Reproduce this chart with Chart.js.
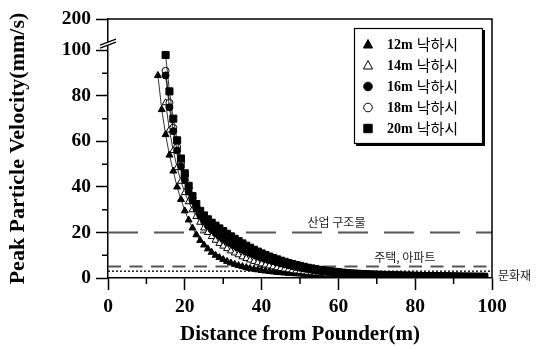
<!DOCTYPE html>
<html>
<head>
<meta charset="utf-8">
<script src="https://cdn.jsdelivr.net/npm/chart.js@4.4.1/dist/chart.umd.min.js"></script>
<style>
  html, body { margin: 0; padding: 0; background: #fff; }
  canvas { display: block; }
</style>
</head>
<body>
<canvas id="chart" width="538" height="349"></canvas>
<script>
// distance from pounder (m), one reading per metre
const distances = [13, 14, 15, 16, 17, 18, 19, 20, 21, 22,
  23, 24, 25, 26, 27, 28, 29, 30, 31, 32,
  33, 34, 35, 36, 37, 38, 39, 40, 41, 42,
  43, 44, 45, 46, 47, 48, 49, 50, 51, 52,
  53, 54, 55, 56, 57, 58, 59, 60, 61, 62,
  63, 64, 65, 66, 67, 68, 69, 70, 71, 72,
  73, 74, 75, 76, 77, 78, 79, 80, 81, 82,
  83, 84, 85, 86, 87, 88, 89, 90, 91, 92,
  93, 94, 95, 96, 97, 98];

// peak particle velocity (mm/s) per drop height
const ppv12 = [89, 74, 63, 54, 47, 40, 34.5, 29.5, 25.5, 22,
  19, 16.5, 14.5, 12.8, 11.3, 10, 9, 8.1, 7.3, 6.6,
  6, 5.5, 5, 4.6, 4.2, 3.9, 3.6, 3.3, 3.1, 2.9,
  2.7, 2.5, 2.35, 2.2, 2.05, 1.95, 1.85, 1.75, 1.65, 1.55,
  1.5, 1.4, 1.35, 1.3, 1.22, 1.17, 1.12, 1.07, 1.03, 0.99,
  0.95, 0.91, 0.88, 0.85, 0.82, 0.79, 0.76, 0.74, 0.71, 0.69,
  0.67, 0.65, 0.63, 0.61, 0.59, 0.58, 0.56, 0.55, 0.53, 0.52,
  0.5, 0.49, 0.48, 0.47, 0.45, 0.44, 0.43, 0.42, 0.41, 0.4,
  0.39, 0.39, 0.38, 0.37, 0.36, 0.35];

const ppv14 = [null, null, 77, 65, 56, 48.5, 42.5, 37.5, 33.5, 30,
  27, 24.5, 22, 20, 18.2, 16.6, 15.2, 14, 12.9, 11.9,
  11, 10.2, 9.3, 8.6, 7.9, 7.3, 6.7, 6.2, 5.7, 5.3,
  4.9, 4.5, 4.2, 3.9, 3.6, 3.35, 3.1, 2.9, 2.7, 2.5,
  2.35, 2.2, 2.05, 1.92, 1.8, 1.7, 1.6, 1.5, 1.42, 1.34,
  1.27, 1.2, 1.14, 1.08, 1.03, 0.98, 0.94, 0.9, 0.86, 0.82,
  0.79, 0.76, 0.73, 0.7, 0.68, 0.66, 0.64, 0.62, 0.6, 0.58,
  0.56, 0.55, 0.53, 0.52, 0.51, 0.5, 0.49, 0.48, 0.47, 0.46,
  0.45, 0.44, 0.43, 0.42, 0.41, 0.4];

const ppv16 = [null, null, 89, 75, 64.5, 56, 49, 43, 38, 34,
  30.5, 27.5, 25, 23, 21.3, 19.8, 18.5, 17.3, 16.2, 15.2,
  14.2, 13.3, 12.5, 11.7, 11, 10.3, 9.6, 9, 8.4, 7.9,
  7.4, 6.9, 6.4, 6, 5.6, 5.2, 4.8, 4.5, 4.2, 3.9,
  3.6, 3.35, 3.1, 2.9, 2.7, 2.5, 2.35, 2.2, 2.05, 1.95,
  1.85, 1.75, 1.65, 1.56, 1.48, 1.41, 1.34, 1.28, 1.22, 1.17,
  1.12, 1.07, 1.03, 0.99, 0.95, 0.91, 0.88, 0.85, 0.82, 0.79,
  0.76, 0.74, 0.71, 0.69, 0.67, 0.65, 0.63, 0.61, 0.59, 0.57,
  0.56, 0.54, 0.53, 0.51, 0.5, 0.49];

const ppv18 = [null, null, 91, 77, 66, 57.5, 50.5, 44.5, 39.5, 35.2,
  31.6, 28.6, 26, 24, 22.2, 20.6, 19.2, 18, 16.9, 15.9,
  14.9, 14, 13.1, 12.3, 11.5, 10.8, 10.1, 9.5, 8.9, 8.3,
  7.8, 7.3, 6.8, 6.3, 5.9, 5.5, 5.1, 4.8, 4.5, 4.2,
  3.9, 3.6, 3.35, 3.1, 2.9, 2.7, 2.5, 2.35, 2.2, 2.05,
  1.95, 1.85, 1.75, 1.65, 1.56, 1.48, 1.41, 1.34, 1.28, 1.22,
  1.17, 1.12, 1.08, 1.04, 1, 0.96, 0.92, 0.89, 0.86, 0.83,
  0.8, 0.77, 0.75, 0.72, 0.7, 0.68, 0.66, 0.64, 0.62, 0.6,
  0.58, 0.57, 0.55, 0.54, 0.52, 0.51];

const ppv20 = [null, null, 98, 82, 70, 60.5, 52.5, 46, 40.5, 36,
  32.5, 29.5, 27.5, 25.8, 24.3, 23, 21.8, 20.6, 19.4, 18.3,
  17.2, 16.2, 15.2, 14.2, 13.3, 12.4, 11.6, 10.8, 10.1, 9.4,
  8.8, 8.2, 7.6, 7.1, 6.6, 6.1, 5.7, 5.3, 4.9, 4.5,
  4.2, 3.9, 3.6, 3.35, 3.1, 2.9, 2.7, 2.5, 2.35, 2.2,
  2.05, 1.95, 1.85, 1.75, 1.65, 1.58, 1.5, 1.43, 1.37, 1.31,
  1.25, 1.2, 1.15, 1.1, 1.06, 1.02, 0.98, 0.94, 0.91, 0.88,
  0.85, 0.82, 0.79, 0.76, 0.74, 0.72, 0.7, 0.68, 0.66, 0.64,
  0.62, 0.6, 0.58, 0.56, 0.55, 0.54];

const dropHeights = ['12m', '14m', '16m', '18m', '20m'];
const dropSuffix = '낙하시';

// y axis: 0..100 linear, then a break up to the 200 label
const yTickValues = [0, 20, 40, 60, 80, 100];
const yBreakTopLabel = '200';

// permissible vibration criteria (mm/s)
const criteriaValues = [20, 5, 3];
const criteriaLabels = ['산업 구조물', '주택, 아파트', '문화재'];

const serif = '"Liberation Serif", "Times New Roman", serif';
const hangul = '"Noto Sans CJK KR", "Noto Sans", sans-serif';

function toPoints(vals) {
  const pts = [];
  distances.forEach((d, i) => {
    if (vals[i] !== null) pts.push({ x: d, y: vals[i] });
  });
  return pts;
}

const series = [ppv12, ppv14, ppv16, ppv18, ppv20];
const markerStyle = [
  { pointStyle: 'triangle', radius: 4, fill: '#000' },
  { pointStyle: 'triangle', radius: 4, fill: '#fff' },
  { pointStyle: 'circle', radius: 3.5, fill: '#000' },
  { pointStyle: 'circle', radius: 3.5, fill: '#fff' },
  { pointStyle: 'rect', radius: 5, fill: '#000' }
];
const drawOrder = [4, 3, 1, 2, 0]; // lower = on top

const datasets = series.map((vals, i) => ({
  label: dropHeights[i] + ' ' + dropSuffix,
  data: toPoints(vals),
  showLine: true,
  borderColor: '#000',
  borderWidth: 0.8,
  pointStyle: markerStyle[i].pointStyle,
  pointRadius: markerStyle[i].radius,
  pointBackgroundColor: markerStyle[i].fill,
  pointBorderColor: '#000',
  pointBorderWidth: 1,
  order: drawOrder[i]
}));

const yMax = 113.8; // pixel position of the "200" tick after the break

const decor = {
  id: 'decor',
  beforeDatasetsDraw(chart) {
    const { ctx, chartArea: a, scales: { y } } = chart;
    const dash = [[30, 16], [13, 8.5], [2, 2]];
    const width = [2, 2, 1.5];
    const color = ['#555', '#555', '#222'];
    ctx.save();
    criteriaValues.forEach((v, i) => {
      const py = y.getPixelForValue(v);
      ctx.beginPath();
      ctx.setLineDash(dash[i]);
      ctx.lineWidth = width[i];
      ctx.strokeStyle = color[i];
      ctx.moveTo(a.left, py);
      ctx.lineTo(a.right, py);
      ctx.stroke();
    });
    ctx.restore();
  },
  afterDraw(chart) {
    const { ctx, chartArea: a, scales: { x, y } } = chart;
    ctx.save();

    // frame top and right
    ctx.strokeStyle = '#000';
    ctx.lineWidth = 1.5;
    ctx.beginPath();
    ctx.moveTo(a.left, a.top);
    ctx.lineTo(a.right, a.top);
    ctx.lineTo(a.right, a.bottom);
    ctx.stroke();

    // minor ticks
    ctx.beginPath();
    [10, 30, 50, 70, 90].forEach(v => {
      const px = x.getPixelForValue(v);
      ctx.moveTo(px, a.bottom);
      ctx.lineTo(px, a.bottom + 6);
      const py = y.getPixelForValue(v);
      ctx.moveTo(a.left, py);
      ctx.lineTo(a.left - 6, py);
    });
    ctx.stroke();

    // axis break
    const by = y.getPixelForValue(103);
    const bx = a.left;
    ctx.fillStyle = '#fff';
    ctx.beginPath();
    ctx.moveTo(bx - 8, by + 1.5);
    ctx.lineTo(bx + 8, by - 4.5);
    ctx.lineTo(bx + 8, by - 1.5);
    ctx.lineTo(bx - 8, by + 4.5);
    ctx.closePath();
    ctx.fill();
    ctx.lineWidth = 1.2;
    ctx.beginPath();
    ctx.moveTo(bx - 8, by + 1.5);
    ctx.lineTo(bx + 8, by - 4.5);
    ctx.moveTo(bx - 8, by + 4.5);
    ctx.lineTo(bx + 8, by - 1.5);
    ctx.stroke();

    // criteria labels
    ctx.fillStyle = '#222';
    ctx.font = '12px ' + hangul;
    ctx.textBaseline = 'middle';
    ctx.textAlign = 'center';
    ctx.fillText(criteriaLabels[0], x.getPixelForValue(59.5), y.getPixelForValue(criteriaValues[0]) - 10);
    ctx.fillText(criteriaLabels[1], x.getPixelForValue(77.3), y.getPixelForValue(criteriaValues[1]) - 9.5);
    ctx.textAlign = 'left';
    ctx.fillText(criteriaLabels[2], a.right + 6, y.getPixelForValue(criteriaValues[2]) + 4);

    // legend box
    const lx = 354, ly = 28, lw = 129, lh = 116;
    ctx.fillStyle = '#000';
    ctx.fillRect(lx + 2, ly + 2, lw, lh);
    ctx.fillStyle = '#fff';
    ctx.fillRect(lx, ly, lw, lh);
    ctx.lineWidth = 1.2;
    ctx.strokeRect(lx + 0.5, ly + 0.5, lw - 1, lh - 1);

    dropHeights.forEach((h, i) => {
      const cy = 44.5 + i * 21;
      const cx = 368;
      const m = markerStyle[i];
      ctx.fillStyle = m.fill;
      ctx.strokeStyle = '#000';
      ctx.lineWidth = 1;
      ctx.beginPath();
      if (m.pointStyle === 'triangle') {
        ctx.moveTo(cx, cy - 5);
        ctx.lineTo(cx + 4.6, cy + 3.5);
        ctx.lineTo(cx - 4.6, cy + 3.5);
        ctx.closePath();
      } else if (m.pointStyle === 'circle') {
        ctx.arc(cx, cy, 4.3, 0, Math.PI * 2);
      } else {
        ctx.rect(cx - 4.2, cy - 4.2, 8.4, 8.4);
      }
      ctx.fill();
      ctx.stroke();

      ctx.fillStyle = '#000';
      ctx.textAlign = 'left';
      ctx.textBaseline = 'middle';
      ctx.font = 'bold 14px ' + serif;
      ctx.fillText(h, 387, cy + 0.5);
      const w = ctx.measureText(h).width;
      ctx.font = '15px ' + hangul;
      ctx.fillText(dropSuffix, 387 + w + 4, cy);
    });

    ctx.restore();
  }
};

const tickFont = { family: serif, weight: 'bold', size: 19.5 };
const titleFont = { family: serif, weight: 'bold', size: 21 };

new Chart(document.getElementById('chart').getContext('2d'), {
  type: 'scatter',
  data: { datasets },
  options: {
    responsive: false,
    animation: false,
    layout: { padding: { top: 19, right: 46, left: 0, bottom: 0 } },
    plugins: {
      legend: { display: false },
      tooltip: { enabled: false }
    },
    scales: {
      x: {
        type: 'linear',
        min: 0,
        max: 100,
        ticks: { stepSize: 20, color: '#000', font: tickFont, padding: 5, maxRotation: 0 },
        grid: { drawOnChartArea: false, tickLength: 12, tickColor: '#000', tickWidth: 1.5 },
        border: { color: '#000', width: 1.5 },
        title: { display: true, text: 'Distance from Pounder(m)', color: '#000', font: titleFont, padding: { top: 0, bottom: 1.5 } },
        afterFit: s => { s.height = 71; }
      },
      y: {
        type: 'linear',
        min: 0,
        max: yMax,
        afterBuildTicks: s => {
          s.ticks = yTickValues.concat([yMax]).map(v => ({ value: v }));
        },
        ticks: {
          color: '#000',
          font: tickFont,
          padding: 5,
          callback: v => (v > 100 ? yBreakTopLabel : v)
        },
        grid: { drawOnChartArea: false, tickLength: 12, tickColor: '#000', tickWidth: 1.5 },
        border: { color: '#000', width: 1.5 },
        title: { display: true, text: 'Peak Particle Velocity(mm/s)', color: '#000', font: { family: serif, weight: 'bold', size: 22 }, padding: { top: 5, bottom: 0 } },
        afterFit: s => { s.width = 108; }
      }
    }
  },
  plugins: [decor]
});
</script>
</body>
</html>
